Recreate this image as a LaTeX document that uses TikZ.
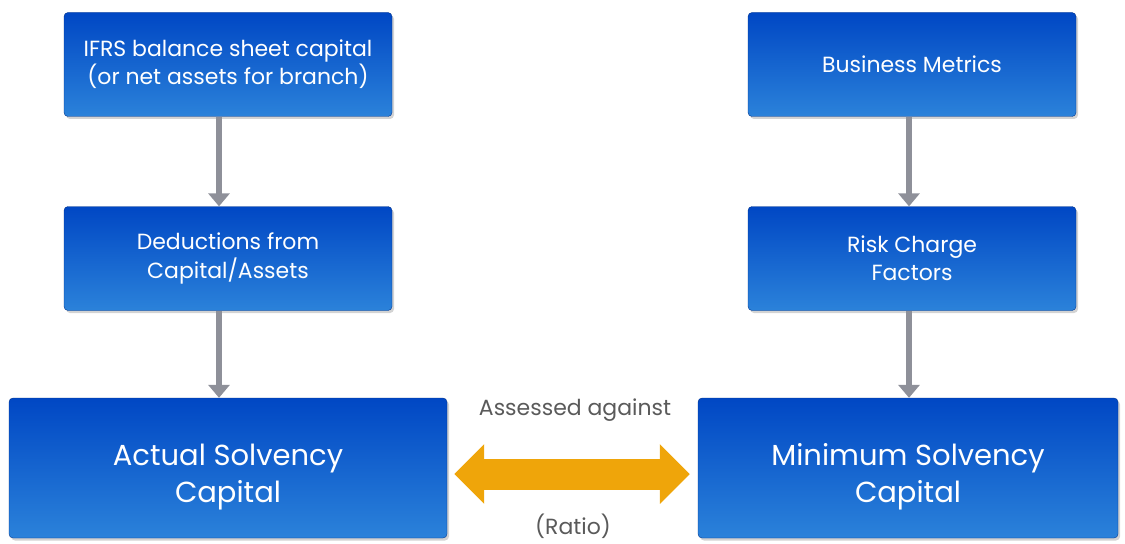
\documentclass[tikz,border=0pt]{standalone}
\usepackage{fontspec}
\setmainfont{Poppins}
\usetikzlibrary{
  arrows.meta,
  shadows,
  positioning
}
\definecolor{boxtop}{HTML}{0047C4}
\definecolor{boxbottom}{HTML}{2B82DA}
\definecolor{flowgray}{HTML}{8E9099}
\definecolor{ratioorange}{HTML}{EFA50A}
\definecolor{notegray}{HTML}{5A5A5A}
\tikzset{
  on grid,
  % styles
  bluebox/.style={
    rectangle,
    rounded corners=0.08cm,
    top color=boxtop,
    bottom color=boxbottom,
    draw=boxtop!70!black,
    line width=0.2pt,
    text=white,
    align=center,
    drop shadow={opacity=0.35,shadow xshift=0.04cm,shadow yshift=-0.05cm},
  },
  small box/.style={
    bluebox,
    minimum width=6.56cm,
    minimum height=2.08cm,
    font=\fontsize{12.5}{16}\selectfont,
  },
  big box/.style={
    bluebox,
    minimum height=2.8cm,
  },
  big text/.style={
    text=white,
    align=center,
    yshift=-0.18cm,
    font=\fontsize{16.5}{21}\selectfont,
  },
  flow/.style={
    draw=flowgray,
    line width=0.12cm,
    -{Triangle[width=0.42cm,length=0.26cm]},
  },
  ratio/.style={
    draw=ratioorange,
    line width=0.62cm,
    {Triangle[width=1.16cm,length=0.6cm]}-{Triangle[width=1.16cm,length=0.6cm]},
    shorten <=0.14cm,
    shorten >=0.16cm,
  },
  note/.style={
    text=notegray,
    font=\fontsize{12.5}{15}\selectfont,
  },
}
\begin{document}
\begin{tikzpicture}
  \useasboundingbox (0,0) rectangle (22.5,-10.86);

  % left column
  \node [small box] (ifrs) at (4.56,-1.29)
    {IFRS balance sheet capital\\(or net assets for branch)};
  \node [small box] (deduct) [below=3.88cm of ifrs]
    {Deductions from\\Capital/Assets};
  \node [big box, minimum width=8.76cm] (actual) [below=4.19cm of deduct]
    [label={[big text]center:Actual Solvency\\Capital}] {};

  % right column
  \node [small box] (metrics) [right=13.68cm of ifrs] {Business Metrics};
  \node [small box] (risk) [below=3.88cm of metrics]
    {Risk Charge\\Factors};
  \node [big box, minimum width=8.4cm] (minimum) [below=4.19cm of risk, xshift=-0.08cm]
    [label={[big text]center:Minimum Solvency\\Capital}] {};

  % notes on the ratio
  \node [note] (assessed) at (11.5,-8.2) {Assessed against};
  \node [note] (ratioval) at (11.46,-10.52) {(Ratio)};

  % connectors
  \draw [flow] ([xshift=-0.18cm]ifrs.south) -- ([xshift=-0.18cm]deduct.north);
  \draw [flow] ([xshift=-0.18cm]deduct.south) -- ([xshift=-0.18cm]actual.north);
  \draw [flow] ([xshift=-0.06cm]metrics.south) -- ([xshift=-0.06cm]risk.north);
  \draw [flow] ([xshift=-0.06cm]risk.south) -- ([xshift=0.02cm]minimum.north);
  \draw [ratio] ([yshift=-0.12cm]actual.east) -- ([yshift=-0.12cm]minimum.west);
\end{tikzpicture}
\end{document}
